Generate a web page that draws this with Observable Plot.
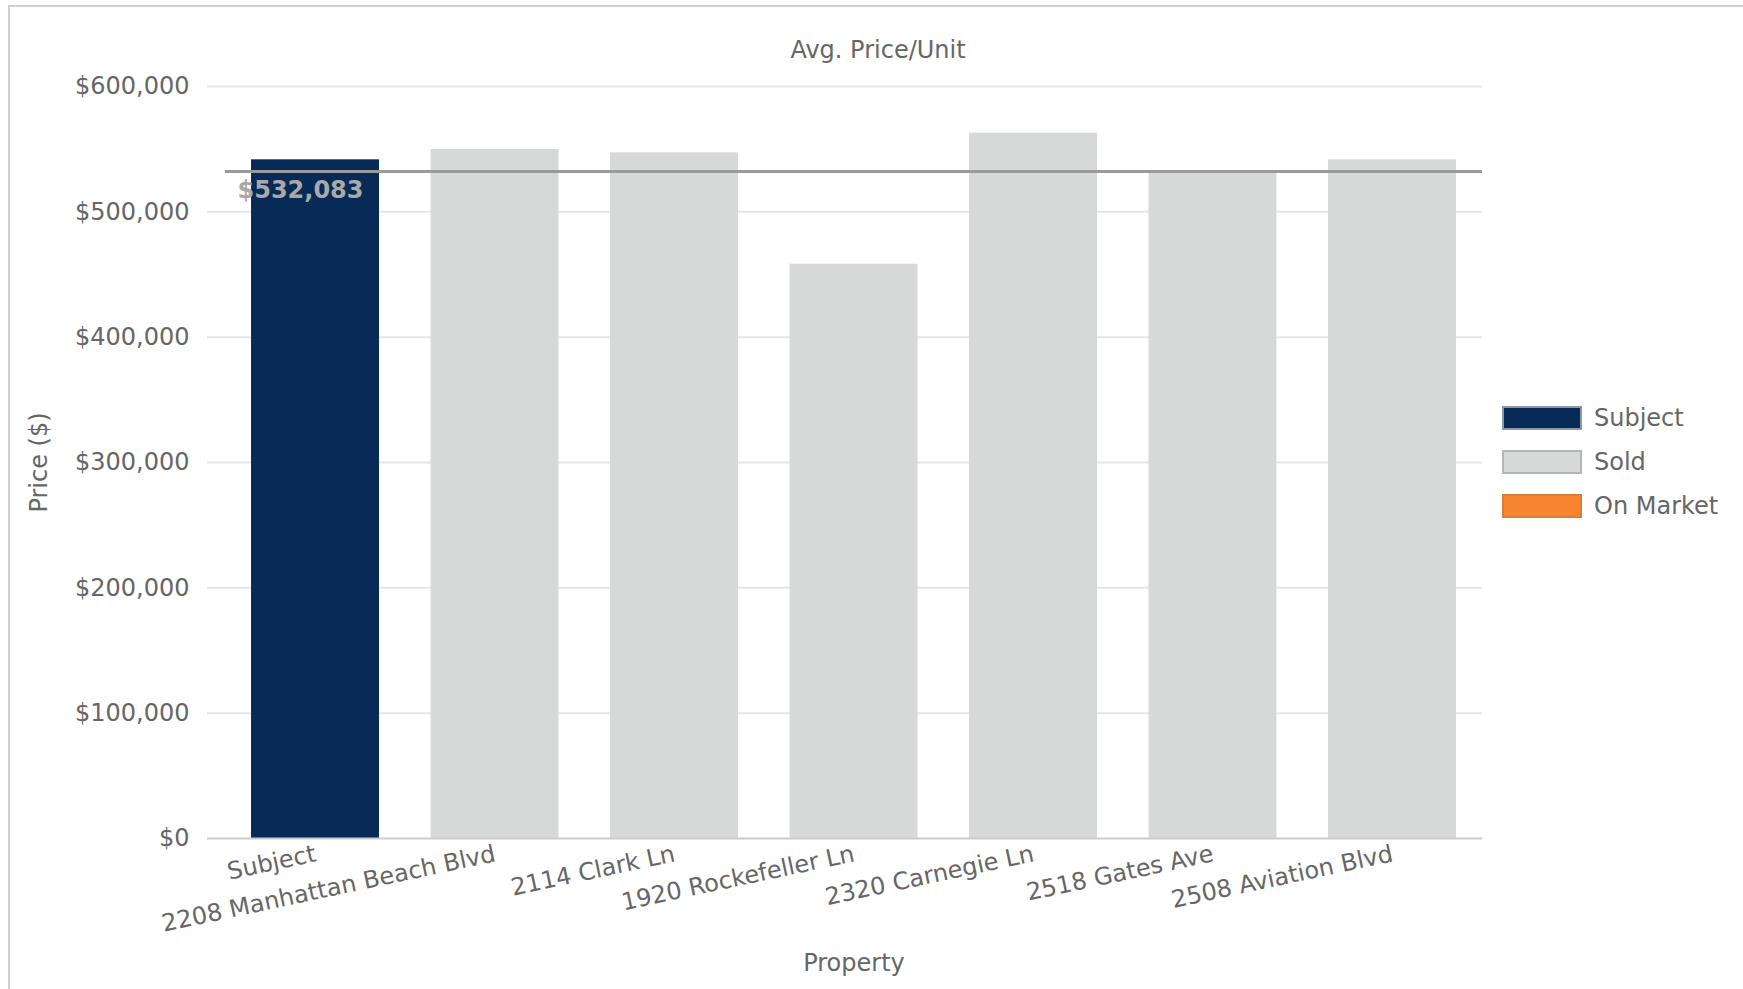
<!DOCTYPE html>
<html>
<head>
<meta charset="utf-8">
<script src="https://cdn.jsdelivr.net/npm/d3@7"></script>
<script src="https://cdn.jsdelivr.net/npm/@observablehq/plot@0.6"></script>
<style>
  body { margin: 0; background: #fff; font-family: "DejaVu Sans", sans-serif; }
  #wrap { position: relative; width: 1743px; height: 989px; overflow: hidden; background: #fff; }
  #frame { position: absolute; left: 8px; top: 5px; width: 1800px; height: 1100px; border-left: 2px solid #cfcfcf; border-top: 2px solid #cfcfcf; }
  #chart { position: absolute; left: 0; top: 0; }
  #title { position: absolute; top: 50px; left: 878px; transform: translate(-50%, -50%); font-size: 24px; color: #666; white-space: nowrap; }
  .leg { position: absolute; left: 1502px; display: flex; align-items: center; font-size: 24px; color: #666; white-space: nowrap; }
  .sw { width: 76px; height: 20px; border: 2px solid; margin-right: 12px; }
</style>
</head>
<body>
<div id="wrap">
  <div id="frame"></div>
  <div id="chart"></div>
  <div id="title"></div>
  <div id="legend"></div>
</div>
<script>
// ---- data ----
const chartTitle = "Avg. Price/Unit";
const properties = ["Subject", "2208 Manhattan Beach Blvd", "2114 Clark Ln", "1920 Rockefeller Ln", "2320 Carnegie Ln", "2518 Gates Ave", "2508 Aviation Blvd"];
const avgPricePerUnit = [541500, 549700, 547100, 458200, 562800, 531000, 541500];
const status = ["Subject", "Sold", "Sold", "Sold", "Sold", "Sold", "Sold"];
const averageLine = 532083;
const yTicks = [0, 100000, 200000, 300000, 400000, 500000, 600000];
const legendLabels = ["Subject", "Sold", "On Market"];
const legendColors = ["#082a56", "#d7d9d9", "#f7842f"];
const legendBorders = ["#8c98a8", "#b4b6b6", "#e07a38"];
const yLabel = "Price ($)";
const xLabel = "Property";

const rows = properties.map((p, i) => ({property: p, value: avgPricePerUnit[i], status: status[i]}));
const money = d => "$" + d3.format(",")(d);

const chart = Plot.plot({
  width: 1743,
  height: 989,
  marginTop: 86,
  marginBottom: 151,
  marginLeft: 225,
  marginRight: 261,
  style: {fontFamily: "DejaVu Sans, sans-serif", fontSize: "24px", color: "#666", background: "transparent"},
  x: {domain: properties, paddingInner: 0.287, paddingOuter: 0.145, round: false, axis: null},
  y: {domain: [0, 600000], axis: null},
  color: {domain: legendLabels, range: legendColors},
  marks: [
    Plot.ruleY(yTicks.slice(1), {stroke: "#e6e6e6", strokeWidth: 2, insetLeft: -18}),
    Plot.barY(rows, {x: "property", y: "value", fill: "status"}),
    Plot.ruleY([0], {stroke: "#cccccc", strokeWidth: 2, insetLeft: -18}),
    Plot.ruleY([averageLine], {stroke: "#9a9a9a", strokeWidth: 3}),
    Plot.text([averageLine], {y: d => d, frameAnchor: "left", dx: 12, dy: 19, text: money, textAnchor: "start", fill: "#a9a9a9", fontWeight: "bold", fontSize: 24}),
    Plot.axisY({ticks: yTicks, tickFormat: money, tickSize: 0, tickPadding: 36, label: null, fontSize: 24}),
    Plot.text(properties, {x: d => d, frameAnchor: "bottom", dy: 15, rotate: -12, textAnchor: "end", lineAnchor: "middle", fontSize: 24}),
    Plot.text([yLabel], {frameAnchor: "left", dx: -186, rotate: -90, textAnchor: "middle", lineAnchor: "middle", fontSize: 24}),
    Plot.text([xLabel], {frameAnchor: "bottom", dy: 132, fontSize: 24})
  ]
});
document.getElementById("chart").appendChild(chart);
document.getElementById("title").textContent = chartTitle;

const legend = document.getElementById("legend");
const legTops = [404, 448, 492];
legendLabels.forEach((lab, i) => {
  const row = document.createElement("div");
  row.className = "leg";
  row.style.top = legTops[i] + "px";
  const sw = document.createElement("div");
  sw.className = "sw";
  sw.style.background = legendColors[i];
  sw.style.borderColor = legendBorders[i];
  row.appendChild(sw);
  const t = document.createElement("span");
  t.textContent = lab;
  row.appendChild(t);
  legend.appendChild(row);
});
</script>
</body>
</html>
